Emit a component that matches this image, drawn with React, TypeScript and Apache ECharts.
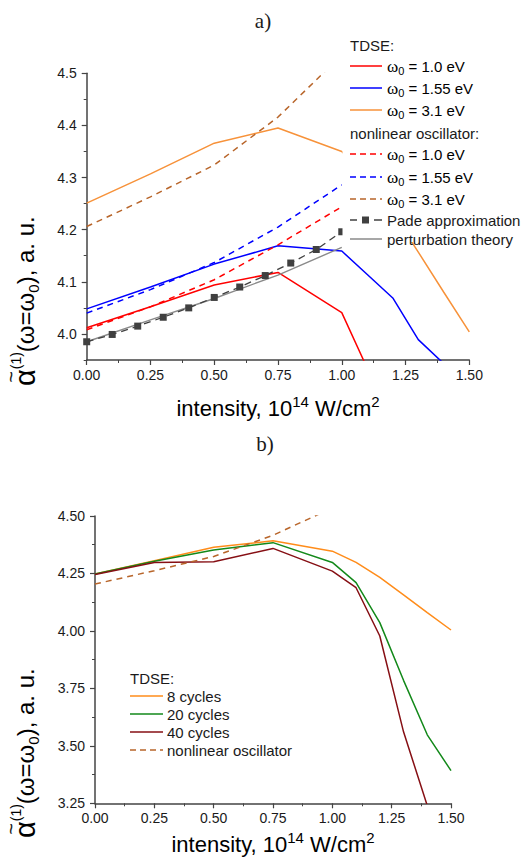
import React, { useEffect, useRef } from "react";
import * as echarts from "echarts";

// ---------- data ----------
const tdse10X = [0, 0.25, 0.5, 0.75, 1.0, 1.1];
const tdse10Y = [4.012, 4.052, 4.094, 4.118, 4.041, 3.934];
const tdse155X = [0, 0.25, 0.5, 0.75, 1.0, 1.1, 1.2, 1.3, 1.4];
const tdse155Y = [4.048, 4.09, 4.134, 4.169, 4.159, 4.114, 4.069, 3.989, 3.943];
const tdse31X = [0, 0.25, 0.5, 0.75, 1.0, 1.1, 1.2, 1.3, 1.4, 1.5];
const tdse31Y = [4.251, 4.307, 4.366, 4.395, 4.35, 4.3, 4.233, 4.157, 4.08, 4.004];
const oscX = [0, 0.25, 0.5, 0.75, 1.0];
const osc10Y = [4.008, 4.052, 4.104, 4.171, 4.244];
const osc155Y = [4.04, 4.085, 4.137, 4.205, 4.286];
const osc31Y = [4.206, 4.263, 4.324, 4.416, 4.535];
const padeX = [0, 0.1, 0.2, 0.3, 0.4, 0.5, 0.6, 0.7, 0.8, 0.9, 1.0];
const padeY = [3.985, 3.999, 4.015, 4.032, 4.05, 4.07, 4.09, 4.112, 4.136, 4.162, 4.196];
const pertX = [0, 0.25, 0.5, 0.75, 1.0];
const pertY = [3.985, 4.027, 4.068, 4.113, 4.166];

const cycX = [0, 0.25, 0.5, 0.75, 1.0, 1.1, 1.2, 1.3, 1.4, 1.5];
const cyc8Y = [4.248, 4.305, 4.364, 4.392, 4.347, 4.298, 4.233, 4.157, 4.08, 4.004];
const cyc20Y = [4.248, 4.303, 4.352, 4.384, 4.298, 4.21, 4.036, 3.785, 3.548, 3.392];
const cyc40X = [0, 0.25, 0.5, 0.75, 1.0, 1.1, 1.2, 1.3, 1.4];
const cyc40Y = [4.245, 4.298, 4.301, 4.359, 4.26, 4.188, 3.978, 3.561, 3.24];
const oscBottomY = [4.204, 4.262, 4.324, 4.416, 4.535];

const topYTicks = [4.0, 4.1, 4.2, 4.3, 4.4, 4.5];

const FONT = "'Liberation Sans', Arial, sans-serif";
const SERIF = "'Liberation Serif', 'Times New Roman', serif";

const C = {
  red: "#ff0000",
  blue: "#0000ff",
  orange: "#f7923a",
  brown: "#b8652a",
  pade: "#404040",
  pert: "#8a8a8a",
  c8: "#ff8c1a",
  c20: "#13891a",
  c40: "#860f14",
  axis: "#444444",
  text: "#1a1a1a",
};

const zip = (xs: number[], ys: number[]) => xs.map((x, i) => [x, ys[i]]);

function lineSeries(name: string, xs: number[], ys: number[], color: string, dashed: boolean, xi: number, yi: number, extra: any = {}) {
  return {
    type: "line",
    name,
    xAxisIndex: xi,
    yAxisIndex: yi,
    data: zip(xs, ys),
    symbol: "none",
    clip: true,
    lineStyle: { color, width: 1.5, type: dashed ? [6, 5] : "solid" },
    itemStyle: { color },
    z: 3,
    ...extra,
  };
}

function xAxis(gridIndex: number) {
  return {
    type: "value",
    gridIndex,
    min: 0,
    max: 1.5,
    interval: 0.25,
    axisLine: { show: true, onZero: false, lineStyle: { color: C.axis, width: 1.5 } },
    axisTick: { show: true, length: 5, lineStyle: { color: C.axis, width: 1.2 } },
    minorTick: { show: true, splitNumber: 2, length: 3, lineStyle: { color: C.axis, width: 1 } },
    splitLine: { show: false },
    minorSplitLine: { show: false },
    axisLabel: { fontSize: 14, color: C.text, fontFamily: FONT, margin: 8, formatter: (v: number) => v.toFixed(2) },
  };
}

const omegaRich = {
  w: { fontSize: 17, fontFamily: SERIF, color: C.text, lineHeight: 20 },
  sub: { fontSize: 11, fontFamily: FONT, color: C.text, verticalAlign: "bottom", lineHeight: 12 },
  t: { fontSize: 15, fontFamily: FONT, color: C.text, lineHeight: 20 },
};

function yTitleGroup(xBase: number, yStart: number) {
  const yRich = {
    al: { fontSize: 29, fontFamily: FONT, color: C.text, lineHeight: 32 },
    a: { fontSize: 24, fontFamily: FONT, color: C.text, lineHeight: 32 },
    s: { fontSize: 14, fontFamily: FONT, color: C.text, verticalAlign: "top", lineHeight: 16 },
    sub: { fontSize: 15, fontFamily: FONT, color: C.text, verticalAlign: "bottom", lineHeight: 12 },
  };
  const yTitle = "{al|α}{s|(1)}{a|(ω=ω}{sub|0}{a|), a. u.}";
  return [
    { type: "text", x: xBase, y: yStart, rotation: Math.PI / 2, style: { text: yTitle, rich: yRich, align: "left", verticalAlign: "middle" } },
    { type: "text", x: xBase - 14, y: yStart - 9, rotation: Math.PI / 2, style: { text: "~", fontSize: 20, fontFamily: FONT, fill: C.text, align: "center", verticalAlign: "middle" } },
  ];
}

function legendGraphic() {
  const els: any[] = [];
  // white box of top legend
  els.push({ type: "rect", shape: { x: 342.5, y: 32, width: 180, height: 210 }, style: { fill: "#ffffff" }, z: 50 });
  const lx1 = 350, lx2 = 382, tx = 387;
  const header = (text: string, x: number, y: number) => ({
    type: "text", x, y, z: 60,
    style: { text, fontSize: 15, fontFamily: FONT, fill: C.text, verticalAlign: "middle", align: "left" },
  });
  const lineEl = (x1: number, x2: number, y: number, color: string, dashed: boolean) => ({
    type: "line", z: 60,
    shape: { x1, y1: y, x2, y2: y },
    style: { stroke: color, lineWidth: 1.5, lineDash: dashed ? [6, 4] : null },
  });
  const omegaText = (val: string, y: number) => ({
    type: "text", x: tx, y, z: 60,
    style: { text: `{w|ω}{sub|0}{t| = ${val} eV}`, rich: omegaRich, verticalAlign: "middle", align: "left" },
  });
  els.push(header("TDSE:", 350, 45));
  const tdseItems: [string, string, number][] = [["1.0", C.red, 66], ["1.55", C.blue, 88], ["3.1", C.orange, 110]];
  tdseItems.forEach(([v, c, y]) => { els.push(lineEl(lx1, lx2, y, c, false)); els.push(omegaText(v, y)); });
  els.push(header("nonlinear oscillator:", 350, 133));
  const oscItems: [string, string, number][] = [["1.0", C.red, 154], ["1.55", C.blue, 177], ["3.1", C.brown, 199]];
  oscItems.forEach(([v, c, y]) => { els.push(lineEl(lx1, lx2, y, c, true)); els.push(omegaText(v, y)); });
  // pade
  els.push(lineEl(350, 357, 220, C.pade, false));
  els.push(lineEl(374, 382, 220, C.pade, false));
  els.push({ type: "rect", z: 60, shape: { x: 362, y: 216.5, width: 7, height: 7 }, style: { fill: C.pade } });
  els.push(header("Pade approximation", 387, 220));
  els.push(lineEl(lx1, lx2, 239, C.pert, false));
  els.push(header("perturbation theory", 387, 239));

  // bottom legend
  els.push(header("TDSE:", 130, 678));
  const bItems: [string, string, number, boolean][] = [
    ["8 cycles", C.c8, 696, false],
    ["20 cycles", C.c20, 714, false],
    ["40 cycles", C.c40, 732, false],
    ["nonlinear oscillator", C.brown, 750, true],
  ];
  bItems.forEach(([t, c, y, d]) => {
    els.push(lineEl(130, 163, y, c, d));
    els.push(header(t, 167, y));
  });

  // panel titles
  els.push({ type: "text", x: 263, y: 21, style: { text: "a)", fontSize: 21, fontFamily: SERIF, fill: C.text, align: "center", verticalAlign: "middle" } });
  els.push({ type: "text", x: 265, y: 444, style: { text: "b)", fontSize: 21, fontFamily: SERIF, fill: C.text, align: "center", verticalAlign: "middle" } });

  // axis titles
  const xRich = {
    a: { fontSize: 22, fontFamily: FONT, color: C.text, lineHeight: 28 },
    s: { fontSize: 15, fontFamily: FONT, color: C.text, verticalAlign: "top", lineHeight: 15 },
  };
  const xTitle = "{a|intensity, 10}{s|14}{a| W/cm}{s|2}";
  els.push({ type: "text", x: 278, y: 408, style: { text: xTitle, rich: xRich, align: "center", verticalAlign: "middle" } });
  els.push({ type: "text", x: 273, y: 844, style: { text: xTitle, rich: xRich, align: "center", verticalAlign: "middle" } });

  yTitleGroup(25, 386).forEach((e) => els.push(e));
  yTitleGroup(25, 838).forEach((e) => els.push(e));
  return els;
}

export default function App() {
  const ref = useRef<HTMLDivElement>(null);
  useEffect(() => {
    if (!ref.current) return;
    const chart = echarts.init(ref.current, null, { renderer: "svg" });
    const option: any = {
      animation: false,
      backgroundColor: "#ffffff",
      grid: [
        { left: 86.7, top: 73.3, width: 382.6, height: 286.7, show: false },
        { left: 95, top: 516, width: 356, height: 287.3, show: false },
      ],
      xAxis: [xAxis(0), xAxis(1)],
      yAxis: [
        {
          type: "value", gridIndex: 0, position: "left", min: 3.95, max: 4.5,
          axisLine: { show: true, onZero: false, lineStyle: { color: C.axis, width: 1.5 } },
          axisTick: { show: true, length: 5, customValues: topYTicks, lineStyle: { color: C.axis, width: 1.2 } },
          splitLine: { show: false },
          axisLabel: { fontSize: 14, color: C.text, fontFamily: FONT, margin: 10, customValues: topYTicks, formatter: (v: number) => v.toFixed(1) },
        },
        {
          type: "value", gridIndex: 0, position: "left", min: 3.95, max: 4.5, interval: 0.05,
          axisLine: { show: false },
          axisTick: { show: true, length: 3, lineStyle: { color: C.axis, width: 1 } },
          splitLine: { show: false },
          axisLabel: { show: false },
        },
        {
          type: "value", gridIndex: 1, position: "left", min: 3.25, max: 4.5, interval: 0.25,
          axisLine: { show: true, onZero: false, lineStyle: { color: C.axis, width: 1.5 } },
          axisTick: { show: true, length: 5, lineStyle: { color: C.axis, width: 1.2 } },
          minorTick: { show: true, splitNumber: 2, length: 3, lineStyle: { color: C.axis, width: 1 } },
          splitLine: { show: false },
          axisLabel: { fontSize: 14, color: C.text, fontFamily: FONT, margin: 10, formatter: (v: number) => v.toFixed(2) },
        },
      ],
      series: [
        lineSeries("TDSE ω0 = 1.0 eV", tdse10X, tdse10Y, C.red, false, 0, 0),
        lineSeries("TDSE ω0 = 1.55 eV", tdse155X, tdse155Y, C.blue, false, 0, 0),
        lineSeries("TDSE ω0 = 3.1 eV", tdse31X, tdse31Y, C.orange, false, 0, 0),
        lineSeries("oscillator ω0 = 1.0 eV", oscX, osc10Y, C.red, true, 0, 0),
        lineSeries("oscillator ω0 = 1.55 eV", oscX, osc155Y, C.blue, true, 0, 0),
        lineSeries("oscillator ω0 = 3.1 eV", oscX, osc31Y, C.brown, true, 0, 0),
        lineSeries("perturbation theory", pertX, pertY, C.pert, false, 0, 0, { lineStyle: { color: C.pert, width: 1.4 } }),
        lineSeries("Pade approximation", padeX, padeY, C.pade, true, 0, 0, {
          symbol: "rect", symbolSize: 7, showSymbol: true,
          lineStyle: { color: C.pade, width: 1.3, type: [7, 5] },
        }),
        lineSeries("8 cycles", cycX, cyc8Y, C.c8, false, 1, 2),
        lineSeries("20 cycles", cycX, cyc20Y, C.c20, false, 1, 2),
        lineSeries("40 cycles", cyc40X, cyc40Y, C.c40, false, 1, 2),
        lineSeries("nonlinear oscillator", oscX, oscBottomY, C.brown, true, 1, 2),
      ],
      graphic: legendGraphic(),
    };
    chart.setOption(option);
    return () => chart.dispose();
  }, []);
  return <div ref={ref} style={{ position: "absolute", left: 0, top: 0, width: 521, height: 861 }} />;
}
